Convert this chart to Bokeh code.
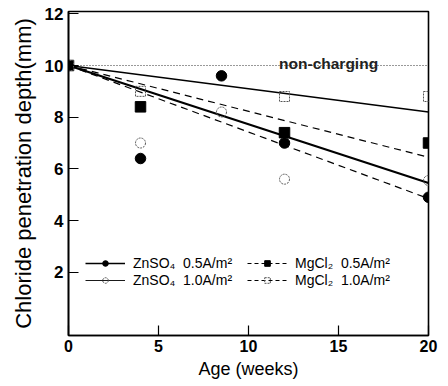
from bokeh.plotting import figure
from bokeh.models import Legend, LegendItem, FixedTicker, Range1d
from bokeh.core.properties import value
from bokeh.embed import file_html
from bokeh.resources import INLINE

# ---- data ----
weeks_zn = [0, 4, 8.5, 12, 20]
zn_05 = [10, 6.4, 9.6, 7.0, 4.9]      # ZnSO4 0.5 A/m2 (filled circle)
zn_10 = [10, 7.0, 8.2, 5.6, 5.55]     # ZnSO4 1.0 A/m2 (open circle)
weeks_mg = [0, 4, 12, 20]
mg_05 = [10, 8.4, 7.4, 7.0]           # MgCl2 0.5 A/m2 (filled square)
mg_10 = [10, 9.0, 8.8, 8.8]           # MgCl2 1.0 A/m2 (open square)

trend_x = [0, 20]
trend_zn05 = [10, 5.45]   # thick solid
trend_mg10 = [10, 8.2]    # thin solid
trend_mg05 = [10, 6.45]   # upper dashed
trend_zn10 = [10, 4.85]   # lower dashed
noncharge = [10, 10]      # dotted reference

x_ticks = [0, 5, 10, 15, 20]
y_ticks = [2, 4, 6, 8, 10, 12]

FONT = "Liberation Sans"
NAN = [float("nan")]

p = figure(width=448, height=386, output_backend="svg", toolbar_location=None,
           x_range=Range1d(0, 20), y_range=Range1d(-0.45, 12.09),
           min_border_left=68, min_border_right=20, min_border_top=11,
           min_border_bottom=51)
p.xgrid.visible = False
p.ygrid.visible = False
p.outline_line_color = "black"
p.outline_line_width = 1.6
p.background_fill_color = "white"
p.border_fill_color = "white"

for ax in (p.xaxis[0], p.yaxis[0]):
    ax.axis_line_width = 1.6
    ax.axis_line_color = "black"
    ax.major_tick_in = 10
    ax.major_tick_out = 0
    ax.minor_tick_in = 0
    ax.minor_tick_out = 0
    ax.major_tick_line_color = "black"
    ax.major_tick_line_width = 1.2
    ax.major_label_text_font = FONT
    ax.major_label_text_font_style = "bold"
    ax.major_label_text_color = "black"
    ax.axis_label_text_font = FONT
    ax.axis_label_text_font_style = "normal"
    ax.axis_label_text_color = "black"

p.xaxis.ticker = FixedTicker(ticks=x_ticks)
p.yaxis.ticker = FixedTicker(ticks=y_ticks)
p.xaxis.major_label_text_font_size = "16px"
p.yaxis.major_label_text_font_size = "17px"
p.xaxis.major_label_standoff = 4
p.yaxis.major_label_standoff = 5
p.xaxis.axis_label = "Age (weeks)"
p.yaxis.axis_label = "Chloride penetration depth(mm)"
p.xaxis.axis_label_text_font_size = "18px"
p.yaxis.axis_label_text_font_size = "22px"
p.xaxis.axis_label_standoff = 4
p.yaxis.axis_label_standoff = 6

# reference and trend lines
p.line(trend_x, noncharge, line_color="#333333", line_width=1, line_dash="1 2")
p.line(trend_x, trend_mg10, line_color="black", line_width=1.3)
p.line(trend_x, trend_zn05, line_color="black", line_width=2.2)
p.line(trend_x, trend_mg05, line_color="black", line_width=1.2, line_dash="7 5")
p.line(trend_x, trend_zn10, line_color="black", line_width=1.2, line_dash="7 5")

p.text(x=[11.7], y=[10], text=["non-charging"], text_font=value(FONT),
       text_font_size="15.5px", text_font_style="bold", text_baseline="alphabetic",
       text_align="left", y_offset=-2, text_color="#222222")

# data markers
r_zn05 = p.scatter(weeks_zn, zn_05, marker="circle", size=10.5,
                   fill_color="black", line_color="black")
r_zn10 = p.scatter(weeks_zn, zn_10, marker="circle", size=10,
                   fill_alpha=0, line_color="#555555", line_width=1, line_dash="2 1")
r_mg05 = p.scatter(weeks_mg, mg_05, marker="square", size=10.5,
                   fill_color="black", line_color="black")
r_mg10 = p.scatter(weeks_mg, mg_10, marker="square", size=10,
                   fill_alpha=0, line_color="#555555", line_width=1, line_dash="2 1")

# line renderers with no visible points, only used to draw legend line styles
l_zn05 = p.line(NAN, NAN, line_color="black", line_width=1.6)
l_zn10 = p.line(NAN, NAN, line_color="black", line_width=0.9)
l_mg05 = p.line(NAN, NAN, line_color="black", line_width=1, line_dash="4 3")
l_mg10 = p.line(NAN, NAN, line_color="black", line_width=1, line_dash="4 3")

def make_legend(items, loc):
    lg = Legend(items=items, location=loc, orientation="vertical",
                border_line_alpha=0, background_fill_alpha=0,
                padding=0, margin=0, spacing=1,
                glyph_width=40, glyph_height=14, label_height=13,
                label_standoff=8, label_text_font=FONT,
                label_text_font_size="14px", label_text_color="black")
    return lg

leg1 = make_legend([
    LegendItem(label="ZnSO\u2084  0.5A/m\u00b2", renderers=[l_zn05, r_zn05]),
    LegendItem(label="ZnSO\u2084  1.0A/m\u00b2", renderers=[l_zn10, r_zn10]),
], (17, 47))
leg2 = make_legend([
    LegendItem(label="MgCl\u2082  0.5A/m\u00b2", renderers=[l_mg05, r_mg05]),
    LegendItem(label="MgCl\u2082  1.0A/m\u00b2", renderers=[l_mg10, r_mg10]),
], (179, 47))
p.add_layout(leg1, "center")
p.add_layout(leg2, "center")

open("out.html", "w").write(file_html(p, INLINE))
